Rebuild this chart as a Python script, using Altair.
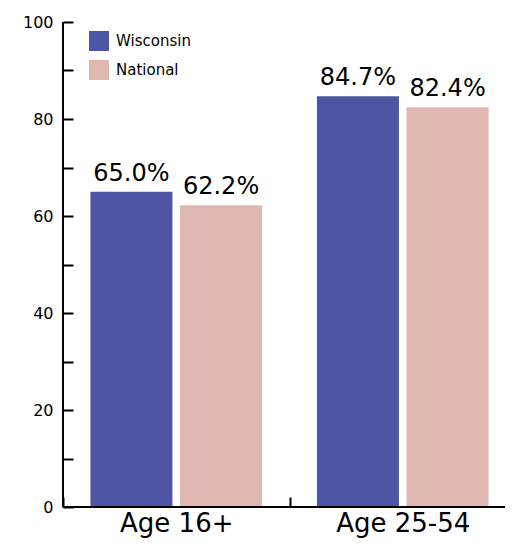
import altair as alt
import pandas as pd

groups = ["Age 16+", "Age 16+", "Age 25-54", "Age 25-54"]
series = ["Wisconsin", "National", "Wisconsin", "National"]
values = [65.0, 62.2, 84.7, 82.4]
labels = ["65.0%", "62.2%", "84.7%", "82.4%"]
series_order = ["Wisconsin", "National"]
colors = ["#4E55A5", "#E0B7B1"]
y_ticks = list(range(0, 101, 5))

df = pd.DataFrame({"group": groups, "series": series, "value": values, "label": labels})

FONT = "DejaVu Sans"
W, H = 442, 485

x_enc = alt.X(
    "group:N",
    title=None,
    scale=alt.Scale(paddingInner=0, paddingOuter=0, range=[0, 453]),
    axis=alt.Axis(
        orient="bottom", offset=-10, domain=False, tickSize=10, tickWidth=2,
        tickColor="black", tickBand="extent", labelAngle=0, labelFontSize=26,
        labelFont=FONT, labelColor="black", labelPadding=3,
    ),
)
xoff = alt.XOffset(
    "series:N", sort=series_order,
    scale=alt.Scale(paddingInner=0.0889, paddingOuter=0.308),
)
y_enc = alt.Y(
    "value:Q", title=None,
    scale=alt.Scale(domain=[0, 100], nice=False),
    axis=alt.Axis(
        values=y_ticks, offset=-10, domain=False, tickSize=10, tickWidth=2,
        tickColor="black", labelFontSize=16, labelFont=FONT, labelColor="black",
        labelPadding=10, grid=False,
        labelExpr="datum.value % 20 === 0 ? datum.label : ''",
    ),
)

bars = alt.Chart(df).mark_bar(size=82).encode(
    x=x_enc, xOffset=xoff, y=y_enc,
    color=alt.Color(
        "series:N", sort=series_order,
        scale=alt.Scale(domain=series_order, range=colors),
        legend=alt.Legend(
            title=None, orient="none", legendX=26, legendY=9, padding=0,
            symbolType="square", symbolSize=400, symbolStrokeWidth=0,
            symbolOpacity=1, labelFontSize=15, labelFont=FONT,
            labelColor="black", rowPadding=9, labelOffset=7,
        ),
    ),
)

text = alt.Chart(df).mark_text(
    baseline="alphabetic", dy=-11, fontSize=24, font=FONT, color="black"
).encode(x=x_enc, xOffset=xoff, y=y_enc, text="label:N")

one = pd.DataFrame({"a": [0]})
y_domain = alt.Chart(one).mark_rule(color="black", strokeWidth=2).encode(
    x=alt.value(0), y=alt.datum(0), y2=alt.datum(100)
)
x_domain = alt.Chart(one).mark_rule(color="black", strokeWidth=2).encode(
    y=alt.datum(0), x=alt.value(0), x2=alt.value(W)
)

chart = alt.layer(bars, text, y_domain, x_domain).properties(
    width=W, height=H,
    autosize=alt.AutoSizeParams(type="none"),
    padding={"left": 55, "top": 14, "right": 0, "bottom": 34},
).configure_view(stroke=None)

chart.save("out.html", embed_options={"renderer": "svg", "actions": False})
